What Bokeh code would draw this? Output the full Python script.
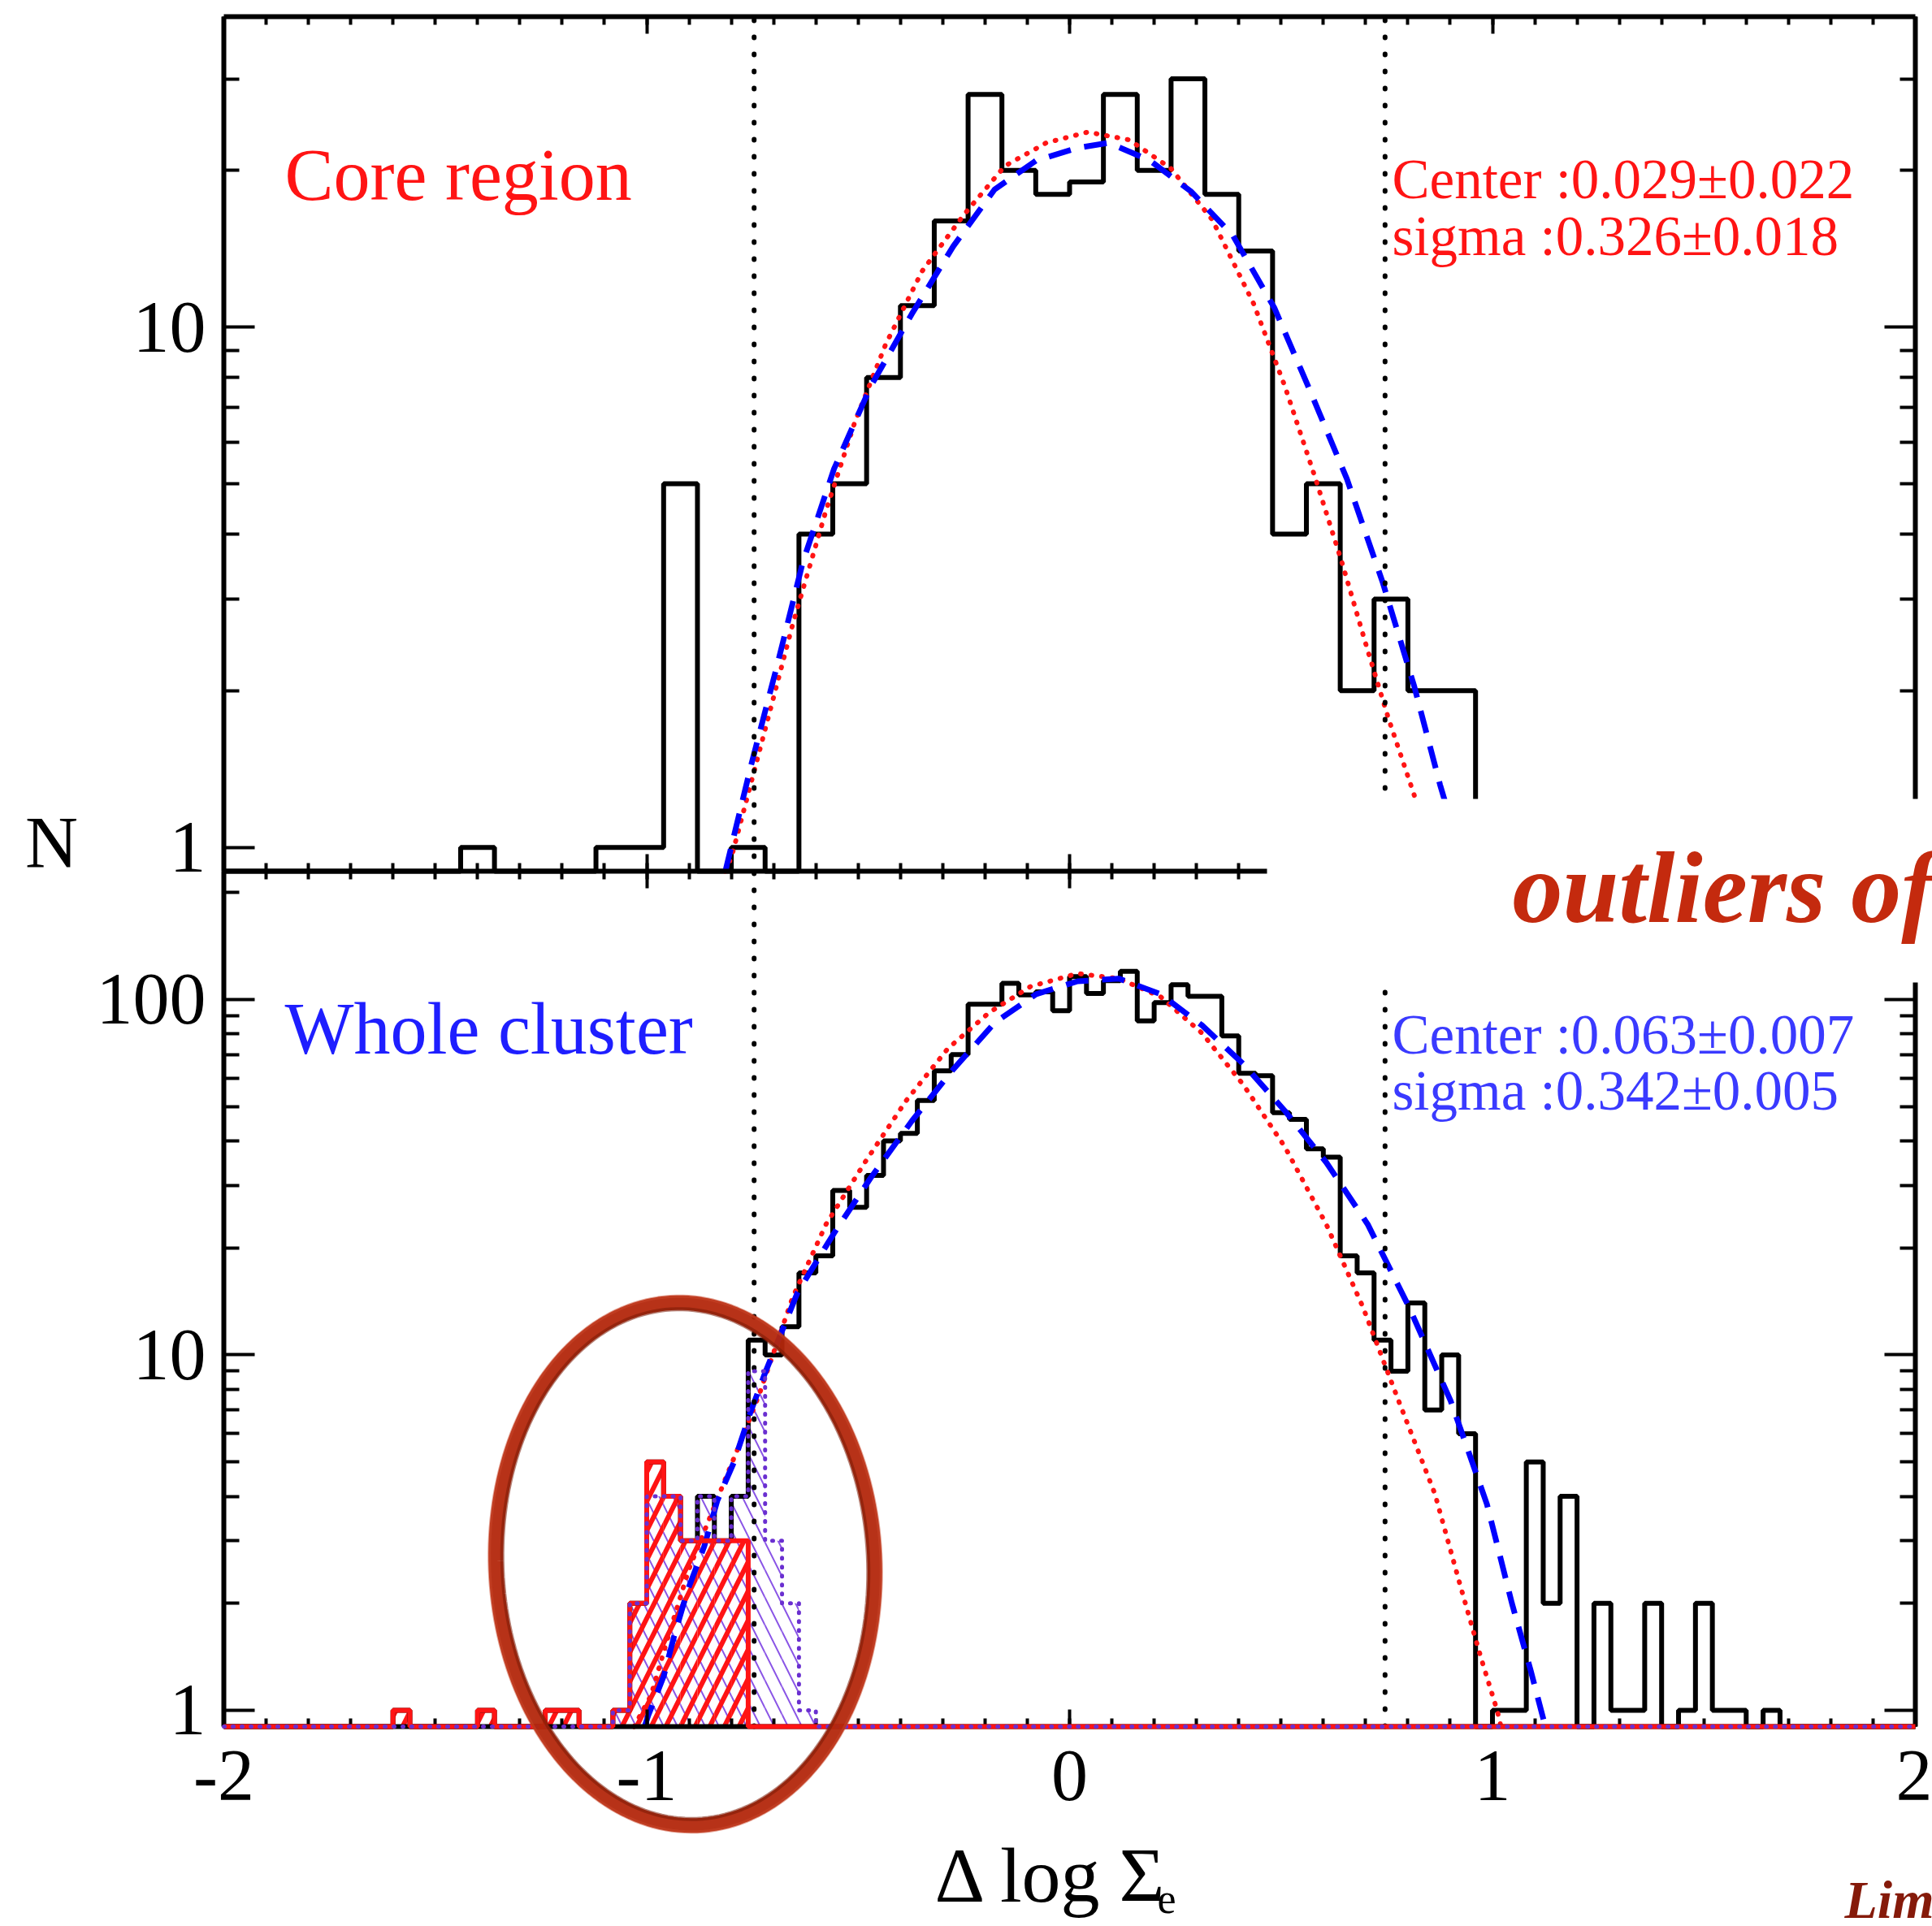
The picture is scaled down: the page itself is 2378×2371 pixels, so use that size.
import numpy as np
from math import log10, cos, sin, pi
from bokeh.plotting import figure
from bokeh.models import (Range1d, LogScale, LogAxis, LinearAxis, FixedTicker,
                          SingleIntervalTicker, BasicTickFormatter,
                          BoxAnnotation, Label, PolyAnnotation)
from bokeh.embed import file_html
from bokeh.resources import INLINE

# ------------------------------------------------------------------ data
x_major_ticks = [-2, -1, 0, 1, 2]
x_tick_labels = ["-2", "-1", "0", "1", "2"]
top_y_ticks = [1, 10]
top_y_tick_labels = ["1", "10"]
bot_y_ticks = [1, 10, 100]
bot_y_tick_labels = ["1", "10", "100"]

# Core region histogram: bins of 0.08 starting at -2
core_bin_start = -2.0
core_bin_width = 0.08
core_counts = [0, 0, 0, 0, 0, 0, 0, 1, 0, 0,
               0, 1, 1, 5, 0, 1, 0, 4, 5, 8,
               11, 16, 28, 20, 18, 19, 28, 20, 30, 18,
               14, 4, 5, 2, 3, 2, 2, 0, 0, 0,
               0, 0, 0, 0, 0, 0, 0, 0, 0, 0]

# Whole cluster histogram: bins of 0.04 starting at -2
whole_bin_start = -2.0
whole_bin_width = 0.04
whole_counts = [0, 0, 0, 0, 0, 0, 0, 0, 0, 0,
                1, 0, 0, 0, 0, 1, 0, 0, 0, 1,
                1, 0, 0, 1, 2, 5, 4, 3, 4, 3,
                4, 11, 10, 12, 17, 19, 29, 26, 32, 40,
                42, 52, 63, 70, 97, 97, 111, 103, 105, 93,
                116, 104, 113, 120, 87, 98, 110, 102, 102, 79,
                62, 61, 48, 46, 38, 36, 19, 17, 11, 9,
                14, 7, 10, 6, 0, 1, 1, 5, 2, 4,
                0, 2, 1, 1, 2, 0, 1, 2, 1, 1,
                0, 1, 0, 0, 0, 0, 0, 0, 0, 0]

# hatched sub-samples in the whole cluster panel (bin left edges, counts)
red_hatched_left = [-1.60, -1.40, -1.24, -1.20, -1.08, -1.04, -1.00, -0.96, -0.92, -0.88, -0.84, -0.80]
red_hatched_counts = [1, 1, 1, 1, 1, 2, 5, 4, 3, 3, 3, 3]
purple_hatched_left = [-1.08, -1.04, -1.00, -0.96, -0.92, -0.88, -0.84, -0.80, -0.76, -0.72, -0.68, -0.64]
purple_hatched_counts = [1, 2, 4, 4, 3, 4, 3, 4, 9, 3, 2, 1]

# fitted curves
core_gauss_x = [-0.815, -0.80, -0.729, -0.655, -0.576, -0.508, -0.435, -0.349, -0.251, -0.153,
                -0.055, 0.043, 0.141, 0.239, 0.337, 0.435, 0.509, 0.582, 0.644, 0.705,
                0.754, 0.815, 0.85]
core_gauss_y = [0.9, 0.955, 1.58, 2.68, 4.44, 6.56, 9.26, 12.8, 16.4, 20.4,
                22.6, 23.7, 22.9, 20.2, 16.1, 11.1, 7.7, 5.1, 3.53, 2.39,
                1.77, 1.26, 1.0]
core_fit_x = [-0.814, -0.753, -0.692, -0.631, -0.557, -0.470, -0.373, -0.275, -0.177, -0.079,
              0.019, 0.092, 0.190, 0.288, 0.386, 0.484, 0.570, 0.656, 0.741, 0.815,
              0.876, 0.92]
core_fit_y = [0.9, 1.44, 2.23, 3.53, 5.34, 7.7, 10.6, 14.3, 18.4, 20.9,
              22.1, 22.6, 20.9, 18.2, 15.0, 10.9, 7.5, 5.1, 3.22, 2.04,
              1.32, 1.0]
whole_gauss_x = [-1.03, -0.99, -0.95, -0.90, -0.85, -0.81, -0.775, -0.733, -0.655, -0.576,
                 -0.484, -0.386, -0.288, -0.190, -0.092, 0.019, 0.117, 0.215, 0.313, 0.411,
                 0.509, 0.607, 0.694, 0.778, 0.864, 0.925, 0.974, 1.011, 1.02]
whole_gauss_y = [0.9, 1.1, 1.6, 2.5, 3.5, 4.6, 5.8, 7.8, 14.5, 23.3,
                 34.8, 52.0, 72.7, 91.9, 108.8, 118.3, 114.4, 101.8, 80.4, 57.5,
                 38.5, 23.3, 13.6, 7.43, 4.06, 2.22, 1.39, 1.0, 0.9]
whole_fit_x = [-1.005, -0.996, -0.96, -0.935, -0.903, -0.864, -0.833, -0.794, -0.756, -0.72,
               -0.643, -0.557, -0.471, -0.373, -0.275, -0.177, -0.079, 0.019, 0.117, 0.215,
               0.313, 0.411, 0.509, 0.607, 0.705, 0.803, 0.901, 0.987, 1.046, 1.09, 1.125]
whole_fit_y = [0.9, 0.97, 1.245, 1.62, 2.18, 2.89, 3.89, 4.98, 6.82, 8.9,
               15.0, 22.0, 31.4, 45.5, 63.6, 86.0, 103.5, 112.5, 114.4, 103.5,
               84.6, 65.8, 48.6, 34.8, 23.3, 13.6, 7.43, 3.8, 2.0, 1.3, 0.9]

cut_lines = [-0.746, 0.746]
core_fit_text = ["Center :0.029\u00b10.022", "sigma :0.326\u00b10.018"]
whole_fit_text = ["Center :0.063\u00b10.007", "sigma :0.342\u00b10.005"]

# ------------------------------------------------------------------ layout (pixels)
W, H = 2378, 2371
FL, FR, FT, FM, FB = 275, 2357, 20, 1072, 2125
FLOOR = 0.9
TOP_MAX = 39.5
BOT_MAX = 229.5

kt = (FM - FT) / (log10(TOP_MAX) - log10(FLOOR))
kb = (FB - FM) / (log10(BOT_MAX) - log10(FLOOR))


def xd(px):
    return -2 + 4.0 * (px - FL) / (FR - FL)


def yt(py):  # core (default) range value at pixel row py
    return 10 ** (log10(FLOOR) + (FM - py) / kt)


def yb(py):  # whole cluster range value at pixel row py
    return 10 ** (log10(FLOOR) + (FB - py) / kb)


SERIF = "Liberation Serif"
RED = "#ff1414"
BLUE = "#1e1eff"

# the frame fills the whole canvas; the two panels are drawn with fixed axes
p = figure(width=W, height=H, x_range=Range1d(xd(0), xd(W)),
           y_range=Range1d(yt(H), yt(0)), x_axis_type=None, y_axis_type=None,
           output_backend="svg", toolbar_location=None, min_border=0)
p.y_scale = LogScale()
p.extra_y_ranges = {"bot": Range1d(yb(H), yb(0))}
p.extra_y_scales = {"bot": LogScale()}
p.outline_line_color = None
p.xgrid.visible = False
p.ygrid.visible = False
p.background_fill_color = "white"
p.border_fill_color = "white"

top_minor = [m * d for d in (1, 10) for m in range(2, 10) if m * d < TOP_MAX]
bot_minor = [m * d for d in (1, 10, 100) for m in range(2, 10) if m * d < BOT_MAX]

AXW = 6


def x_axis(loc, side, labels, tin, tout, rng="default"):
    ax = LinearAxis(fixed_location=loc, y_range_name=rng, bounds=(-2, 2),
                    ticker=SingleIntervalTicker(interval=1, num_minor_ticks=10))
    ax.axis_line_width = AXW
    ax.major_tick_line_width = 4
    ax.minor_tick_line_width = 4
    ax.major_tick_in = tin
    ax.major_tick_out = tout
    ax.minor_tick_in = tin // 2
    ax.minor_tick_out = tout // 2
    ax.formatter = BasicTickFormatter()
    ax.major_label_text_font = SERIF
    ax.major_label_text_font_size = "90px"
    if labels:
        ax.major_label_overrides = dict(zip(x_major_ticks, x_tick_labels))
        ax.major_label_text_color = "black"
        ax.major_label_standoff = 30
    else:
        ax.major_label_text_color = None
    p.add_layout(ax, side)


def y_axis(loc, side, ticks, tick_labels, minor, top, labels, rng="default"):
    ax = LogAxis(fixed_location=loc, y_range_name=rng, bounds=(FLOOR, top),
                 ticker=FixedTicker(ticks=ticks, minor_ticks=minor))
    ax.axis_line_width = AXW
    ax.major_tick_line_width = 4
    ax.minor_tick_line_width = 4
    ax.major_tick_in = 38
    ax.major_tick_out = 0
    ax.minor_tick_in = 19
    ax.minor_tick_out = 0
    ax.formatter = BasicTickFormatter()
    ax.major_label_text_font = SERIF
    ax.major_label_text_font_size = "90px"
    if labels:
        ax.major_label_overrides = dict(zip(ticks, tick_labels))
        ax.major_label_text_color = "black"
        ax.major_label_standoff = 22
    else:
        ax.major_label_text_color = None
    p.add_layout(ax, side)


x_axis(FLOOR, "below", True, 21, 0, rng="bot")        # bottom axis with labels
x_axis(FLOOR, "below", False, 21, 21)                  # divider between panels
x_axis(TOP_MAX, "above", False, 21, 0)                 # top border
y_axis(-2, "left", top_y_ticks, top_y_tick_labels, top_minor, TOP_MAX, True)
y_axis(-2, "left", bot_y_ticks, bot_y_tick_labels, bot_minor, BOT_MAX, True, rng="bot")
y_axis(2, "right", top_y_ticks, top_y_tick_labels, top_minor, TOP_MAX, False)
y_axis(2, "right", bot_y_ticks, bot_y_tick_labels, bot_minor, BOT_MAX, False, rng="bot")


# ------------------------------------------------------------------ histograms
def step_xy(start, width, counts):
    edges = start + width * np.arange(len(counts) + 1)
    ys = [c if c > 0 else FLOOR for c in counts]
    return edges, ys + [ys[-1]]


def full_counts(lefts, counts, n):
    out = [0] * n
    for l, c in zip(lefts, counts):
        out[int(round((l - whole_bin_start) / whole_bin_width))] = c
    return out


n_whole = len(whole_counts)
purple_full = full_counts(purple_hatched_left, purple_hatched_counts, n_whole)
red_full = full_counts(red_hatched_left, red_hatched_counts, n_whole)

# hatched areas
p.quad(left=purple_hatched_left,
       right=[l + whole_bin_width for l in purple_hatched_left],
       top=purple_hatched_counts, bottom=[FLOOR] * len(purple_hatched_left),
       y_range_name="bot", fill_color=None, line_color=None,
       hatch_pattern="\\", hatch_color="#8a55e6", hatch_weight=2, hatch_scale=34)
p.quad(left=red_hatched_left,
       right=[l + whole_bin_width for l in red_hatched_left],
       top=red_hatched_counts, bottom=[FLOOR] * len(red_hatched_left),
       y_range_name="bot", fill_color=None, line_color=None,
       hatch_pattern="/", hatch_color=RED, hatch_weight=6, hatch_scale=36)

# black histograms
ex, ey = step_xy(core_bin_start, core_bin_width, core_counts)
p.step(ex, ey, mode="after", line_color="black", line_width=6)
ex, ey = step_xy(whole_bin_start, whole_bin_width, whole_counts)
p.step(ex, ey, mode="after", line_color="black", line_width=6, y_range_name="bot")

# outlines of the sub-samples
ex, ey = step_xy(whole_bin_start, whole_bin_width, red_full)
p.step(ex, ey, mode="after", line_color=RED, line_width=6, y_range_name="bot",
       level="annotation")
ex, ey = step_xy(whole_bin_start, whole_bin_width, purple_full)
p.step(ex, ey, mode="after", line_color="#6a2fd0", line_width=5, y_range_name="bot",
       line_dash="1 10", line_cap="round", level="annotation")

# fitted curves
p.line(core_gauss_x, core_gauss_y, line_color=RED, line_width=6, line_dash="1 12",
       line_cap="round")
p.line(core_fit_x, core_fit_y, line_color="blue", line_width=7, line_dash="28 17")
p.line(whole_gauss_x, whole_gauss_y, line_color=RED, line_width=6, line_dash="1 12",
       line_cap="round", y_range_name="bot")
p.line(whole_fit_x, whole_fit_y, line_color="blue", line_width=7, line_dash="28 17",
       y_range_name="bot")

# vertical cut lines (over both panels)
p.segment(x0=cut_lines, y0=[yt(FB)] * len(cut_lines), x1=cut_lines,
          y1=[TOP_MAX] * len(cut_lines), line_color="black", line_width=6,
          line_dash="1 20", line_cap="round")


# ------------------------------------------------------------------ texts
# (px, baseline_py) are the wanted pixel positions; Label baseline sits ~0.36 em lower
def lab(text, px, base_py, size, color, level="annotation", style="normal", align="left"):
    p.add_layout(Label(x=xd(px), y=yt(base_py - 0.36 * size), text=text, text_font=SERIF,
                       text_font_size=f"{size}px", text_color=color, text_align=align,
                       text_font_style=style, text_baseline="alphabetic", level=level))


lab("Core region", 350, 247, 90, RED)
lab(core_fit_text[0], 1713, 245, 69, RED)
lab(core_fit_text[1], 1713, 315, 69, RED)
lab("Whole cluster", 350, 1298, 90, BLUE)
lab(whole_fit_text[0], 1713, 1298, 69, "#3a3aff")
lab(whole_fit_text[1], 1713, 1367, 69, "#3a3aff")
lab("N", 63, 1069, 90, "black", align="center")
lab("\u0394 log \u03a3", 1150, 2343, 96, "black")
lab("e", 1424, 2356, 52, "black")

# white cover box with annotation text
p.add_layout(BoxAnnotation(left=xd(1559), right=xd(W + 20), top=yt(983), bottom=yt(1209),
                           fill_color="white", fill_alpha=1.0, line_color=None,
                           level="overlay"))
lab("outliers of", 1861, 1138, 124, "#c42a0e", level="overlay", style="bold italic")
lab("Lim", 2270, 2362, 66, "#851a0a", level="overlay", style="bold italic")

# hand-drawn ellipse around the outliers
ecx, ecy, erx, ery, tilt = 843, 1925, 233, 322, 0.05
for dr, lw, col, al in [(0, 18, "#b3270c", 0.95), (-8, 5, "#7a1a06", 0.55), (8, 4, "#c9452a", 0.5)]:
    ts = np.linspace(0, 2 * pi, 200)
    xs, ys = [], []
    for t in ts:
        ux = (erx + dr) * cos(t)
        uy = (ery + dr) * sin(t)
        px = ecx + ux * cos(tilt) + uy * sin(tilt)
        py = ecy - ux * sin(tilt) + uy * cos(tilt)
        xs.append(xd(px))
        ys.append(yt(py))
    p.add_layout(PolyAnnotation(xs=xs, ys=ys, line_color=col, line_width=lw, line_alpha=al,
                                fill_color=None, fill_alpha=0, level="overlay"))

open("out.html", "w").write(file_html(p, INLINE))
